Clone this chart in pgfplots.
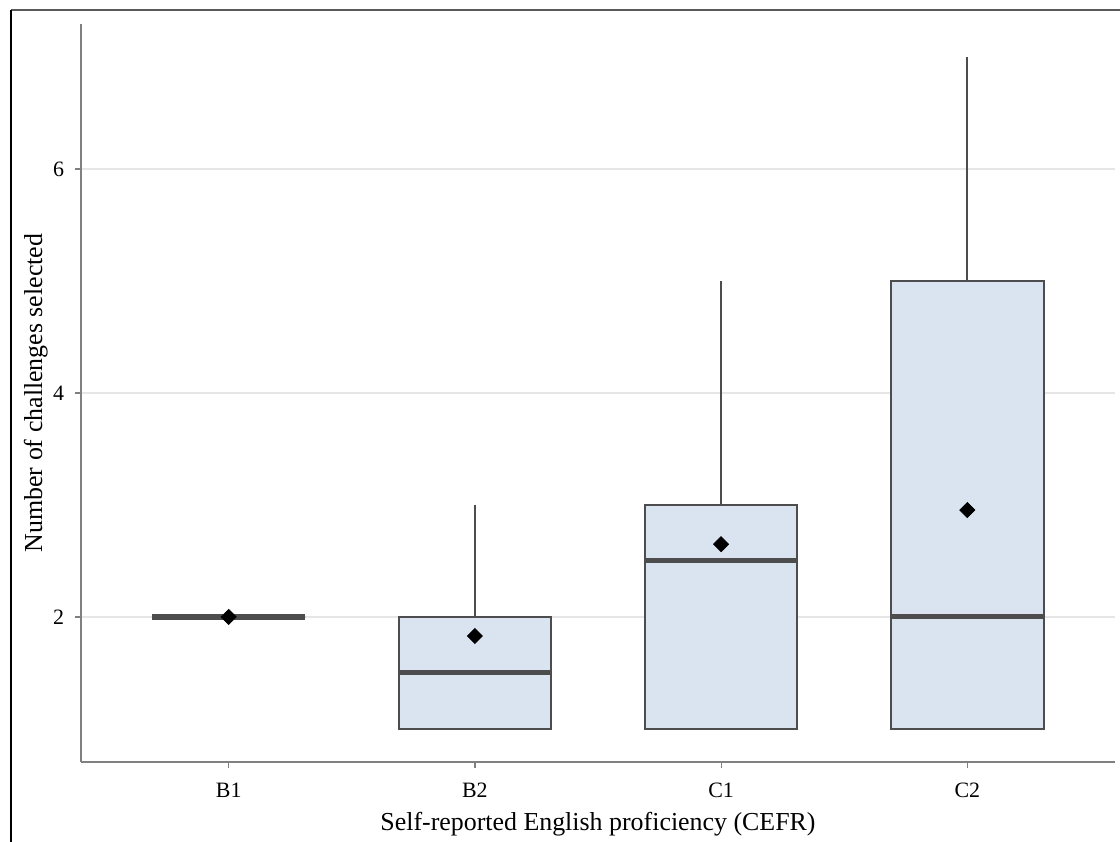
\documentclass[border=0pt]{standalone}
\usepackage{pgfplots}
\pgfplotsset{compat=1.18}
\usepgfplotslibrary{statistics}
\usepackage{fontspec}
\setmainfont{Liberation Serif}
\definecolor{boxfill}{HTML}{D9E4F0}
\definecolor{boxedge}{HTML}{4D4D4D}
\definecolor{gridc}{HTML}{E6E6E6}
\definecolor{axisc}{HTML}{808080}
\begin{document}
\begin{tikzpicture}
\path[use as bounding box] (0,0) rectangle (560bp,421bp);
\draw[line width=0.6bp, black!65] (5.5bp,416bp) -- (560bp,416bp);
\draw[line width=0.6bp, black] (5.5bp,416bp) -- (5.5bp,0bp);
\begin{axis}[
  at={(40.5bp,40bp)}, anchor=south west,
  scale only axis, width=517bp, height=369bp,
  xmin=0.4, xmax=4.6, ymin=0.705, ymax=7.295,
  xtick={1,2,3,4}, xticklabels={B1,B2,C1,C2},
  ytick={2,4,6},
  axis x line=bottom, axis y line=left,
  axis line style={-, axisc, line width=0.6bp},
  tick align=outside, major tick length=3bp,
  tick style={axisc, line width=0.6bp},
  ymajorgrids, major grid style={gridc, line width=1bp},
  /pgf/number format/assume math mode=true,
  ticklabel style={font=\fontsize{11}{12}\selectfont, text=black},
  xticklabel style={yshift=-4bp},
  yticklabel style={xshift=-2bp},
  label style={font=\fontsize{13}{15}\selectfont},
  xlabel={Self-reported English proficiency (CEFR)},
  ylabel={Number of challenges selected},
  xlabel style={at={(axis description cs:0.5,0)}, anchor=base, yshift=-34bp},
  ylabel style={at={(axis description cs:-0.0377,0.5)}, anchor=base, rotate=0},
  boxplot/draw direction=y,
  boxplot/box extend=0.62,
  boxplot/whisker extend=0,
  boxplot/every box/.style={draw=boxedge, fill=boxfill, line width=1bp},
  boxplot/every whisker/.style={draw=boxedge, line width=0.8bp},
  boxplot/every median/.style={draw=boxedge, line width=2.5bp},
]
\addplot+[boxplot prepared={draw position=1, lower whisker=2, lower quartile=2, median=2, upper quartile=2, upper whisker=2}, boxplot/every median/.style={draw=boxedge, line width=3.4bp}, draw=boxedge, mark=none] coordinates {};
\addplot+[boxplot prepared={draw position=2, lower whisker=1, lower quartile=1, median=1.5, upper quartile=2, upper whisker=3}, draw=boxedge, mark=none] coordinates {};
\addplot+[boxplot prepared={draw position=3, lower whisker=1, lower quartile=1, median=2.5, upper quartile=3, upper whisker=5}, draw=boxedge, mark=none] coordinates {};
\addplot+[boxplot prepared={draw position=4, lower whisker=1, lower quartile=1, median=2, upper quartile=5, upper whisker=7}, draw=boxedge, mark=none] coordinates {};
\addplot[only marks, mark=square*, mark size=2.65bp, mark options={rotate=45, fill=black, draw=black}] coordinates {(1,2) (2,1.83) (3,2.65) (4,2.955)};
\end{axis}
\end{tikzpicture}
\end{document}
